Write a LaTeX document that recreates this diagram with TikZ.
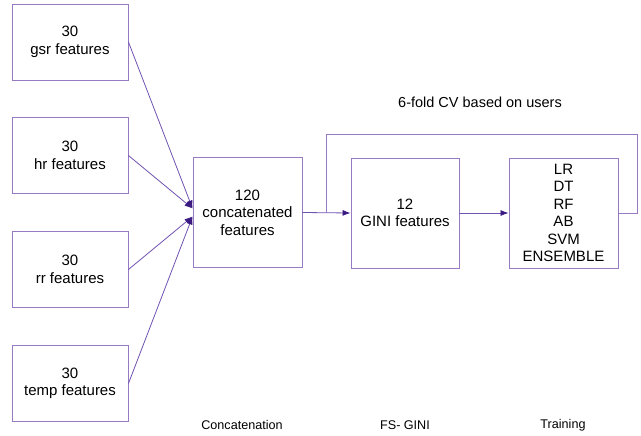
\documentclass[tikz,border=0pt]{standalone}
\usepackage{fontspec}
\setmainfont{Liberation Sans}
\usetikzlibrary{arrows.meta}
\definecolor{boxpurple}{RGB}{150,122,196}
\definecolor{linepurple}{RGB}{112,82,176}
\definecolor{tippurple}{RGB}{58,26,128}
\tikzset{
  featbox/.style={draw=boxpurple,line width=0.9pt,inner sep=0pt,align=center,
    font=\fontsize{15}{17.5}\selectfont},
  flow/.style={draw=linepurple,line width=0.8pt,-{Latex[length=8pt,width=6pt,color=tippurple]}},
  loop/.style={draw=boxpurple,line width=0.9pt},
  steplabel/.style={font=\fontsize{12.6}{14}\selectfont}
}
\begin{document}
\begin{tikzpicture}[x=1pt,y=-1pt]
\useasboundingbox (0,0) rectangle (641,436);
% input features
\node[featbox,minimum width=116pt,minimum height=76pt] (gsr) at (70,42){30\\gsr features};
\node[featbox,minimum width=116pt,minimum height=76pt] (hr) at (70,155.5){30\\hr features};
\node[featbox,minimum width=116pt,minimum height=76pt] (rr) at (70,269.5){30\\rr features};
\node[featbox,minimum width=116pt,minimum height=76pt] (temp) at (70,383.5){30\\temp features};

\node[featbox,minimum width=109pt,minimum height=110pt] (concat) at (247.5,212.5){120\\concatenated\\features};
\node[featbox,minimum width=108pt,minimum height=110pt] (gini) at (405,213){12\\GINI features};
\node[featbox,minimum width=109pt,minimum height=110pt] (train) at (563.5,213){LR\\DT\\RF\\AB\\SVM\\ENSEMBLE};

\draw[flow] (gsr.east) -- ([yshift=4pt]concat.west);
\draw[flow] (hr.east) -- ([yshift=4pt]concat.west);
\draw[flow] (rr.east) -- ([yshift=-4pt]concat.west);
\draw[flow] (temp.east) -- ([yshift=-4pt]concat.west);
\draw[flow] (concat.east) -- (gini.west);
\draw[flow] (gini.east) -- (train.west);

% cross validation loop
\coordinate (split) at (326,213);
\coordinate (loopl) at (326,134);
\coordinate (loopr) at (637,134);
\draw[loop] (train.east) -| (loopr) -- (loopl) -- (split);
\node[font=\fontsize{14.5}{17}\selectfont] (cvlabel) at (480,102){6-fold CV based on users};

\node[steplabel] (concatlabel) at (242,425){Concatenation};
\node[steplabel] (ginilabel) at (405,425){FS- GINI};
\node[steplabel] (trainlabel) at (563,425){Training};
\end{tikzpicture}
\end{document}
